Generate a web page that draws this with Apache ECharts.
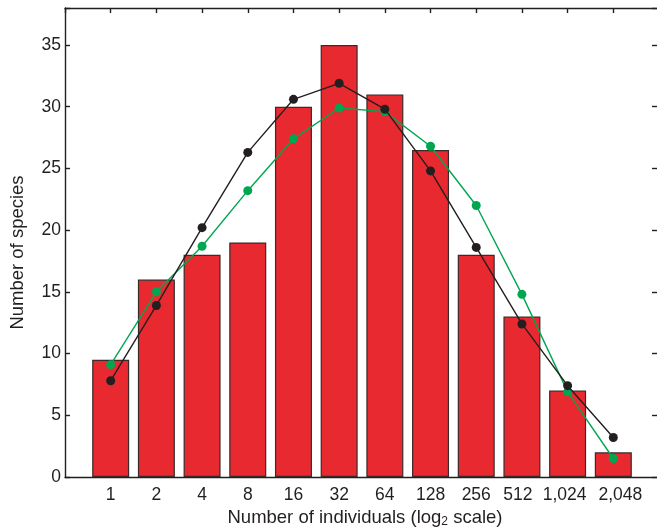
<!DOCTYPE html>
<html>
<head>
<meta charset="utf-8">
<script src="https://cdn.jsdelivr.net/npm/echarts@6/dist/echarts.min.js"></script>
<style>html,body{margin:0;padding:0;background:#fff}#c{width:657px;height:529px}</style>
</head>
<body>
<div id="c"></div>
<script>
const categories = ['1','2','4','8','16','32','64','128','256','512','1,024','2,048'];
const observed = [9.5, 16, 18, 19, 30, 35, 31, 26.5, 18, 13, 7, 2];
const blackSeries = [7.8, 13.9, 20.2, 26.3, 30.6, 31.9, 29.8, 24.8, 18.6, 12.4, 7.4, 3.2];
const greenSeries = [9.1, 15.0, 18.7, 23.2, 27.4, 29.9, 29.6, 26.8, 22.0, 14.8, 6.9, 1.5];
const yTicks = [0, 5, 10, 15, 20, 25, 30, 35];

const toXY = arr => arr.map((v, i) => [i + 1, v]);
const font = 'Liberation Sans, Arial, Helvetica, sans-serif';
const axisColor = '#231f20';
// small label nudges (style only) to mimic the reference's label placement
const labelStyleKey = {'512': 'l4', '1,024': 'l3', '2,048': 'r7'};

const chart = echarts.init(document.getElementById('c'), null, {renderer: 'canvas'});
chart.setOption({
  animation: false,
  grid: {left: 65, right: -2, top: 8, bottom: 52, containLabel: false, outerBoundsMode: 'none'},
  xAxis: [{
    type: 'value', min: 0, max: categories.length + 1, interval: 1, position: 'bottom',
    axisLine: {show: true, onZero: false, lineStyle: {color: axisColor, width: 1.4}},
    axisTick: {show: false},
    splitLine: {show: false},
    axisLabel: {
      margin: 9, fontSize: 17.5, color: '#231f20', fontFamily: font,
      showMinLabel: false, showMaxLabel: false,
      formatter: v => {
        if (!(v >= 1 && v <= categories.length)) return '';
        const c = categories[v - 1];
        return labelStyleKey[c] ? '{' + labelStyleKey[c] + '|' + c + '}' : c;
      },
      rich: {
        l4: {fontSize: 17.5, fontFamily: font, color: '#231f20', padding: [0, 8, 0, 0]},
        l3: {fontSize: 17.5, fontFamily: font, color: '#231f20', padding: [0, 6, 0, 0]},
        r7: {fontSize: 17.5, fontFamily: font, color: '#231f20', padding: [0, 0, 0, 14]}
      }
    },
    name: 'Number of individuals (log{sub|2} scale)', nameLocation: 'middle', nameGap: 28,
    nameTextStyle: {fontSize: 18.5, color: '#231f20', fontFamily: font, padding: [0, 0, 0, 6],
      rich: {sub: {fontSize: 12, fontFamily: font, color: '#231f20', verticalAlign: 'bottom', padding: [6, 0, 0, 0]}}}
  }, {
    type: 'value', min: 0, max: categories.length + 1, interval: 1, position: 'top',
    axisLine: {show: true, onZero: false, lineStyle: {color: axisColor, width: 1.4}},
    axisTick: {show: true, inside: true, length: 5, lineStyle: {color: axisColor, width: 1.4}},
    axisLabel: {show: false}, splitLine: {show: false}
  }],
  yAxis: [{
    type: 'value', min: 0, max: 38, interval: 5, position: 'left',
    axisLine: {show: true, onZero: false, lineStyle: {color: axisColor, width: 1.4}},
    axisTick: {show: true, inside: true, length: 5, lineStyle: {color: axisColor, width: 1.4}},
    splitLine: {show: false},
    axisLabel: {
      margin: 4, fontSize: 17.5, color: '#231f20', fontFamily: font,
      formatter: v => yTicks.includes(v) ? String(v) : ''
    },
    name: 'Number of species', nameLocation: 'middle', nameGap: 38,
    nameTextStyle: {fontSize: 18.5, color: '#231f20', fontFamily: font, padding: [0, 20, 0, 0]}
  }, {
    type: 'value', min: 0, max: 38, interval: 5, position: 'right',
    axisLine: {show: true, onZero: false, lineStyle: {color: axisColor, width: 1.4}},
    axisTick: {show: true, inside: true, length: 7, lineStyle: {color: axisColor, width: 1.4}},
    axisLabel: {show: false}, splitLine: {show: false}
  }],
  series: [{
    type: 'bar', data: toXY(observed), barWidth: 37, z: 1,
    itemStyle: {color: '#e8292f', borderColor: '#3a2a2a', borderWidth: 1.2}
  }, {
    type: 'line', data: toXY(greenSeries), z: 3,
    lineStyle: {color: '#00a650', width: 1.4},
    symbol: 'circle', symbolSize: 9, itemStyle: {color: '#00a650'}
  }, {
    type: 'line', data: toXY(blackSeries), z: 4,
    lineStyle: {color: '#231f20', width: 1.4},
    symbol: 'circle', symbolSize: 9, itemStyle: {color: '#231f20'}
  }]
});
</script>
</body>
</html>
